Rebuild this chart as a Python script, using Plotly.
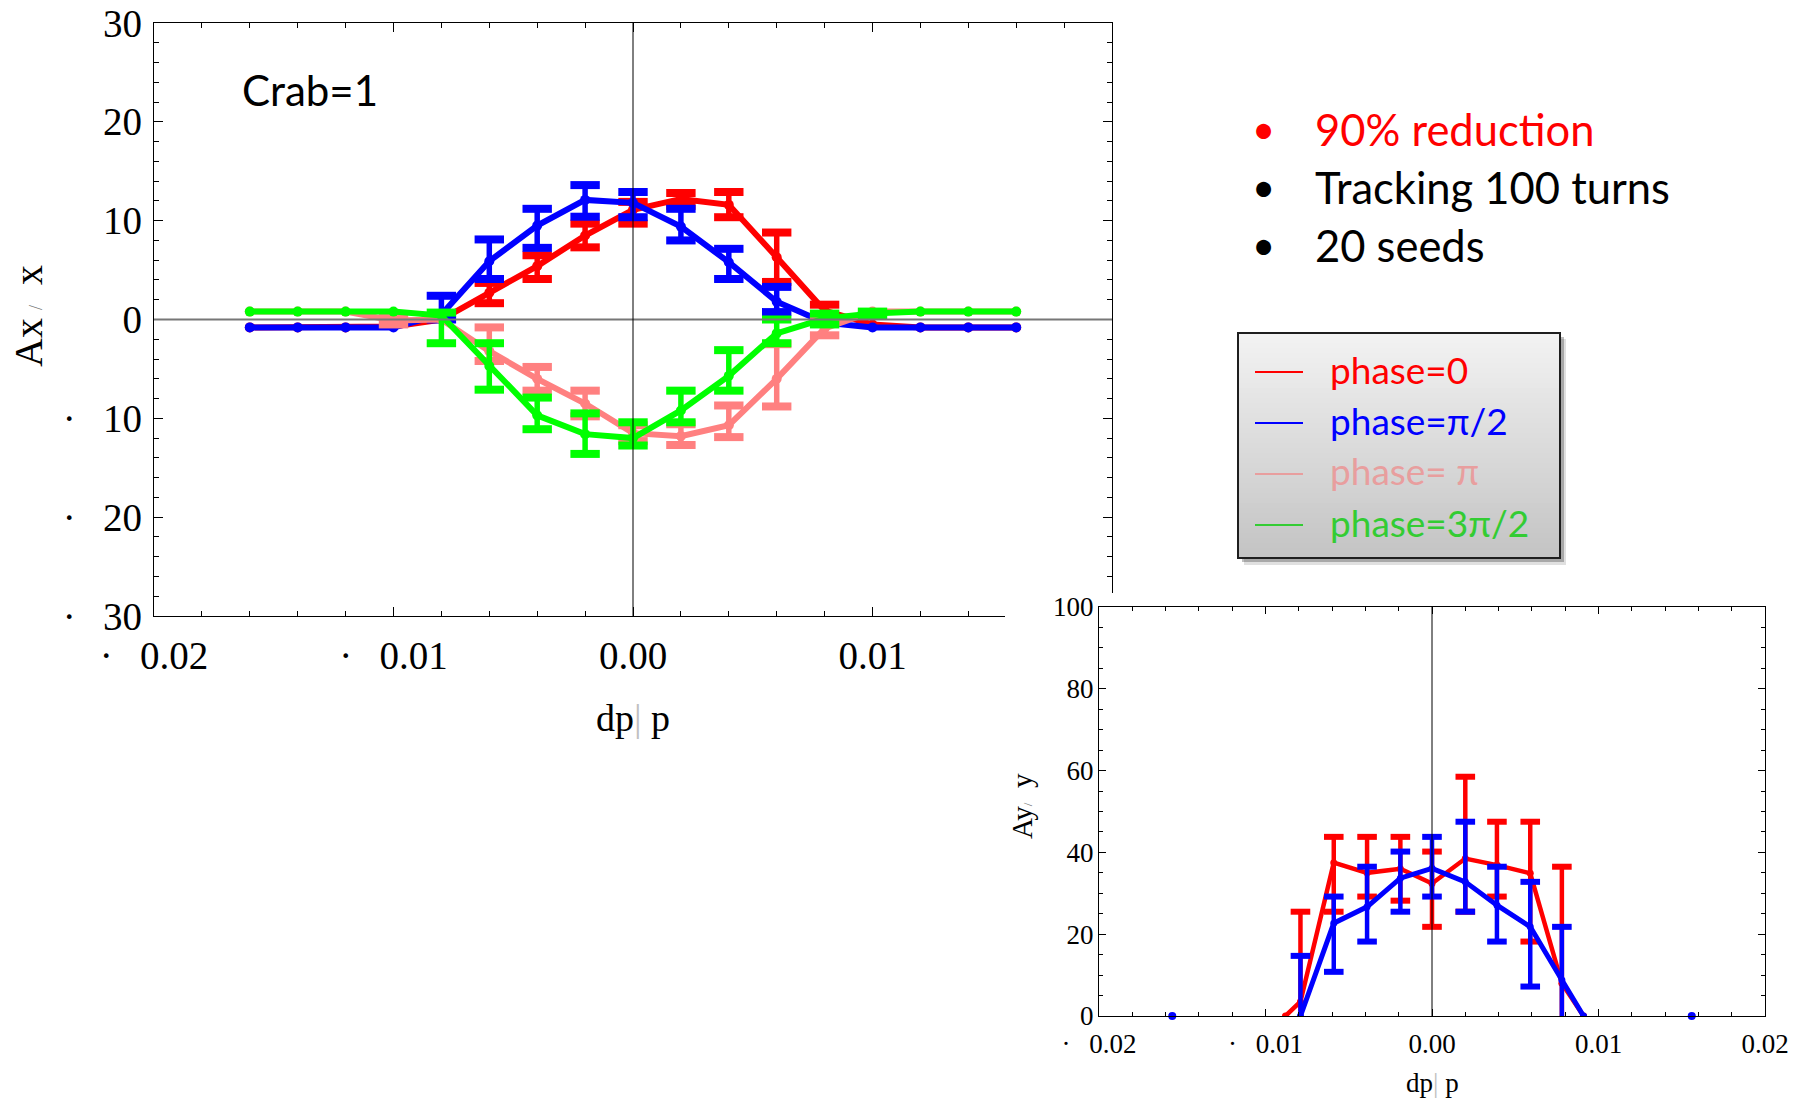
import plotly.graph_objects as go

W, H = 1805, 1098

# ---------------- main plot data: Ax/sigma_x vs dp/p (Crab=1) ----------------
dp = [-0.016, -0.014, -0.012, -0.010, -0.008, -0.006, -0.004, -0.002, 0.0,
      0.002, 0.004, 0.006, 0.008, 0.010, 0.012, 0.014, 0.016]

ax_ph0 = [-0.8, -0.8, -0.8, -0.7, 0.0, 2.7, 5.4, 8.5, 11.1, 12.2, 11.6, 6.3, 0.9, -0.5, -0.8, -0.8, -0.8]
ax_ph0_ep = [0, 0, 0, 0, 0, 1.0, 1.1, 1.2, 0.8, 0.6, 1.3, 2.5, 0.6, 0, 0, 0, 0]
ax_ph0_em = [0, 0, 0, 0, 0, 1.05, 1.3, 1.2, 1.4, 0.7, 1.25, 2.5, 0.6, 0, 0, 0, 0]

ax_ph1 = [-0.8, -0.8, -0.8, -0.8, 0.5, 5.9, 9.5, 12.1, 11.8, 9.4, 5.8, 1.8, -0.3, -0.8, -0.8, -0.8, -0.8]
ax_ph1_ep = [0, 0, 0, 0, 1.9, 2.2, 1.7, 1.5, 1.1, 1.8, 1.35, 1.5, 0, 0, 0, 0, 0]
ax_ph1_em = [0, 0, 0, 0, 0.5, 1.8, 2.25, 1.7, 1.45, 1.4, 1.7, 1.05, 0, 0, 0, 0, 0]

ax_ph2 = [0.8, 0.8, 0.8, -0.1, 0.0, -3.2, -6.0, -8.5, -11.5, -11.8, -10.7, -6.0, -0.9, 0.8, 0.8, 0.8, 0.8]
ax_ph2_ep = [0, 0, 0, 0.4, 0, 2.4, 1.2, 1.3, 0.8, 1.2, 2.0, 3.5, 0.9, 0, 0, 0, 0]
ax_ph2_em = [0, 0, 0, 0.4, 0, 1.0, 1.2, 1.3, 0.8, 0.9, 1.2, 2.8, 0.7, 0, 0, 0, 0]

ax_ph3 = [0.8, 0.8, 0.8, 0.8, 0.4, -4.7, -9.7, -11.6, -12.0, -9.2, -5.7, -1.4, 0.1, 0.6, 0.8, 0.8, 0.8]
ax_ph3_ep = [0, 0, 0, 0, 0.3, 2.3, 1.8, 2.1, 1.6, 2.0, 2.6, 1.4, 0.5, 0.2, 0, 0, 0]
ax_ph3_em = [0, 0, 0, 0, 2.8, 2.4, 1.4, 2.0, 0.75, 1.2, 1.5, 1.0, 0.6, 0.2, 0, 0, 0]

NEG = "\u00b7\u00a0\u00a0\u2009"   # the small dot shown in place of the minus sign
main_x_ticks = [-0.02, -0.01, 0.0, 0.01]
main_x_labels = [NEG + "0.02", NEG + "0.01", "0.00", "0.01"]
main_y_ticks = [-30, -20, -10, 0, 10, 20, 30]
main_y_labels = [NEG + "30", NEG + "20", NEG + "10", "0", "10", "20", "30"]

# ---------------- inset data: Ay/sigma_y vs dp/p ----------------
ay_x = [-0.0088, -0.0079, -0.0059, -0.0039, -0.0019, 0.0, 0.0020, 0.0039, 0.0059, 0.0078, 0.0091]
ay_ph0 = [0, 3.5, 37.5, 35.0, 36.0, 32.4, 38.5, 36.9, 34.9, 8.0, 0]
ay_ph0_ep = [0, 22.0, 6.3, 8.8, 7.8, 7.8, 20.0, 10.6, 12.6, 28.5, 0]
ay_ph0_em = [0, 22.0, 12.0, 5.8, 7.8, 10.6, 13.0, 7.7, 16.7, 28.5, 0]
ay_ph1 = [None, 0, 22.7, 26.7, 33.7, 36.1, 32.8, 27.1, 21.8, 8.8, 0]
ay_ph1_ep = [0, 14.7, 6.5, 9.8, 6.5, 7.7, 14.7, 9.4, 11.0, 13.0, 0]
ay_ph1_em = [0, 14.7, 11.9, 8.5, 8.2, 6.9, 7.3, 8.9, 14.6, 13.0, 0]
ay_iso_x = [-0.0156, 0.0156]
ay_iso_y = [0, 0]

inset_x_ticks = [-0.02, -0.01, 0.0, 0.01, 0.02]
inset_x_labels = [NEG + "0.02", NEG + "0.01", "0.00", "0.01", "0.02"]
inset_y_ticks = [0, 20, 40, 60, 80, 100]
inset_y_labels = ["0", "20", "40", "60", "80", "100"]

legend_names = ["phase=0", "phase=\u03c0/2", "phase= \u03c0", "phase=3\u03c0/2"]
legend_colors = ["#ff0000", "#0000ff", "#e89e9e", "#33cc33"]
notes = ["90% reduction", "Tracking 100 turns", "20 seeds"]
note_colors = ["#ff0000", "#000000", "#000000"]

SERIF = "Liberation Serif"
SANS = "Lato"


def px(x):
    return x / W


def py(y):
    return 1 - y / H


fig = go.Figure()


def add_series(x, y, ep, em, color, xa, ya, lw, msize, bar_th, cap_w, cap_th):
    fig.add_trace(go.Scatter(
        x=x, y=y, mode="lines+markers", connectgaps=False,
        line=dict(color=color, width=lw),
        marker=dict(color=color, size=msize),
        error_y=dict(type="data", symmetric=False, array=ep, arrayminus=em,
                     color=color, thickness=bar_th, width=0),
        xaxis=xa, yaxis=ya, showlegend=False, hoverinfo="skip"))
    cx, cy = [], []
    for xi, yi, a, b in zip(x, y, ep, em):
        if yi is None:
            continue
        if a > 0:
            cx.append(xi)
            cy.append(yi + a)
        if b > 0:
            cx.append(xi)
            cy.append(yi - b)
    fig.add_trace(go.Scatter(
        x=cx, y=cy, mode="markers",
        marker=dict(symbol="line-ew", size=cap_w, line=dict(color=color, width=cap_th)),
        xaxis=xa, yaxis=ya, showlegend=False, hoverinfo="skip"))


# main plot series
add_series(dp, ax_ph0, ax_ph0_ep, ax_ph0_em, "#ff0000", "x", "y", 6, 10, 5.5, 21, 8)
add_series(dp, ax_ph1, ax_ph1_ep, ax_ph1_em, "#0000ff", "x", "y", 6, 10, 5.5, 21, 8)
add_series(dp, ax_ph2, ax_ph2_ep, ax_ph2_em, "#ff8080", "x", "y", 6, 10, 5.5, 21, 8)
add_series(dp, ax_ph3, ax_ph3_ep, ax_ph3_em, "#00ff00", "x", "y", 6, 10, 5.5, 21, 8)

# cover subplot (white panel hiding lower-right part of main frame)
fig.add_trace(go.Scatter(x=[], y=[], xaxis="x2", yaxis="y2", showlegend=False))

# inset series
add_series(ay_x, ay_ph0, ay_ph0_ep, ay_ph0_em, "#ff0000", "x3", "y3", 4.5, 7, 4.5, 14, 6)
add_series(ay_x, ay_ph1, ay_ph1_ep, ay_ph1_em, "#0000ff", "x3", "y3", 5, 7, 4.5, 14, 6)
fig.add_trace(go.Scatter(x=ay_iso_x, y=ay_iso_y, mode="markers",
                         marker=dict(color="#0000ff", size=8),
                         xaxis="x3", yaxis="y3", showlegend=False, hoverinfo="skip",
                         cliponaxis=False))

frame = dict(showgrid=False, zeroline=False, showline=True, linecolor="black",
             linewidth=1.3, mirror="ticks", ticks="inside", tickcolor="black",
             tickwidth=1.2, fixedrange=True, automargin=False)

main_minor_x = [round(-0.02 + 0.002 * i, 4) for i in range(21)]
main_minor_y = list(range(-30, 31, 2))
inset_minor_x = [round(-0.02 + 0.002 * i, 4) for i in range(21)]
inset_minor_y = list(range(0, 101, 5))

fig.update_layout(
    template="none",
    width=W, height=H, margin=dict(l=0, r=0, t=0, b=0, pad=0, autoexpand=False),
    paper_bgcolor="white", plot_bgcolor="white", showlegend=False,
    xaxis=dict(**frame, domain=[px(154), px(1112)], range=[-0.02, 0.02], anchor="y",
               tickmode="array", tickvals=main_x_ticks, ticktext=main_x_labels,
               ticklen=9, tickfont=dict(family=SERIF, size=39, color="black"),
               ticklabelstandoff=5,
               minor=dict(tickmode="array", tickvals=main_minor_x, ticks="inside",
                          ticklen=5, tickcolor="black", tickwidth=1)),
    yaxis=dict(**frame, domain=[py(616), py(23)], range=[-30, 30], anchor="x",
               tickmode="array", tickvals=main_y_ticks, ticktext=main_y_labels,
               ticklen=9, tickfont=dict(family=SERIF, size=39, color="black"),
               ticklabelstandoff=3,
               minor=dict(tickmode="array", tickvals=main_minor_y, ticks="inside",
                          ticklen=5, tickcolor="black", tickwidth=1)),
    xaxis2=dict(domain=[px(1005), 1], range=[0, 1], visible=False, anchor="y2", automargin=False),
    yaxis2=dict(domain=[0, py(593)], range=[0, 1], visible=False, anchor="x2", automargin=False),
    xaxis3=dict(**frame, domain=[px(1099), px(1765)], range=[-0.02, 0.02], anchor="y3",
                tickmode="array", tickvals=inset_x_ticks, ticktext=inset_x_labels,
                ticklen=7, tickfont=dict(family=SERIF, size=27, color="black"),
                ticklabelstandoff=3,
                minor=dict(tickmode="array", tickvals=inset_minor_x, ticks="inside",
                           ticklen=4, tickcolor="black", tickwidth=1)),
    yaxis3=dict(**frame, domain=[py(1016), py(607)], range=[0, 100], anchor="x3",
                tickmode="array", tickvals=inset_y_ticks, ticktext=inset_y_labels,
                ticklen=7, tickfont=dict(family=SERIF, size=27, color="black"),
                ticklabelstandoff=-1,
                minor=dict(tickmode="array", tickvals=inset_minor_y, ticks="inside",
                           ticklen=4, tickcolor="black", tickwidth=1)),
)

shapes = []
# zero lines drawn over the data
shapes.append(dict(type="line", xref="x domain", yref="y", x0=0, x1=1, y0=0, y1=0,
                   line=dict(color="#777777", width=2), layer="above"))
shapes.append(dict(type="line", xref="x", yref="y domain", x0=0, x1=0, y0=0, y1=1,
                   line=dict(color="black", width=1), layer="above"))
shapes.append(dict(type="line", xref="x3", yref="y3 domain", x0=0, x1=0, y0=0, y1=1,
                   line=dict(color="black", width=1), layer="above"))

# legend box with shadow and vertical gradient
bx0, bx1, by0, by1 = 1238, 1560, 333, 558
shapes.append(dict(type="rect", xref="paper", yref="paper", x0=px(bx0 + 6), x1=px(bx1 + 6),
                   y0=py(by1 + 7), y1=py(by0 + 6), fillcolor="rgba(0,0,0,0.12)",
                   line=dict(width=0), layer="above"))
shapes.append(dict(type="rect", xref="paper", yref="paper", x0=px(bx0 + 4), x1=px(bx1 + 4),
                   y0=py(by1 + 4), y1=py(by0 + 4), fillcolor="rgba(0,0,0,0.25)",
                   line=dict(width=0), layer="above"))
n_strips = 45
for i in range(n_strips):
    t = i / (n_strips - 1)
    g = int(round(242 - t * (242 - 196)))
    ya = by0 + (by1 - by0) * i / n_strips
    yb = by0 + (by1 - by0) * (i + 1) / n_strips + 1
    shapes.append(dict(type="rect", xref="paper", yref="paper", x0=px(bx0), x1=px(bx1),
                       y0=py(min(yb, by1)), y1=py(ya), fillcolor=f"rgb({g},{g},{g})",
                       line=dict(width=0), layer="above"))
shapes.append(dict(type="rect", xref="paper", yref="paper", x0=px(bx0), x1=px(bx1),
                   y0=py(by1), y1=py(by0), line=dict(color="#1e1e1e", width=2), layer="above"))

row_y = [372, 423, 474, 525]
annotations = []
for name, col, ry in zip(legend_names, legend_colors, row_y):
    shapes.append(dict(type="line", xref="paper", yref="paper", x0=px(1255), x1=px(1303),
                       y0=py(ry), y1=py(ry), line=dict(color=col, width=2), layer="above"))
    annotations.append(dict(xref="paper", yref="paper", x=px(1328), y=py(ry - 3), text=name,
                            showarrow=False, xanchor="left", yanchor="middle",
                            font=dict(family=SANS, size=37, color=col)))

# bullet notes
note_y = [129, 187, 245]
for txt, col, ny in zip(notes, note_colors, note_y):
    annotations.append(dict(xref="paper", yref="paper", x=px(1263), y=py(ny), text="\u2022",
                            showarrow=False, xanchor="center", yanchor="middle",
                            font=dict(family=SANS, size=40, color=col)))
    annotations.append(dict(xref="paper", yref="paper", x=px(1313), y=py(ny), text=txt,
                            showarrow=False, xanchor="left", yanchor="middle",
                            font=dict(family=SANS, size=43.5, color=col)))

annotations.append(dict(xref="paper", yref="paper", x=px(240), y=py(90), text="Crab=1",
                        showarrow=False, xanchor="left", yanchor="middle",
                        font=dict(family=SANS, size=42, color="black")))

# axis titles
annotations.append(dict(xref="paper", yref="paper", x=px(29), y=py(316), textangle=-90,
                        text="Ax\u2009<span style='font-size:18px;color:#777777'>/</span>\u00a0\u00a0x",
                        showarrow=False, xanchor="center", yanchor="middle",
                        font=dict(family=SERIF, size=40, color="black")))
annotations.append(dict(xref="paper", yref="paper", x=px(633), y=py(718),
                        text="dp<span style='color:#c0c0c0'>|</span> p",
                        showarrow=False, xanchor="center", yanchor="middle",
                        font=dict(family=SERIF, size=38, color="black")))
annotations.append(dict(xref="paper", yref="paper", x=px(1022), y=py(806), textangle=-90,
                        text="Ay<span style='font-size:13px;color:#777777'>/</span>\u00a0\u00a0y",
                        showarrow=False, xanchor="center", yanchor="middle",
                        font=dict(family=SERIF, size=29, color="black")))
annotations.append(dict(xref="paper", yref="paper", x=px(1432), y=py(1083),
                        text="dp<span style='color:#c0c0c0'>|</span> p",
                        showarrow=False, xanchor="center", yanchor="middle",
                        font=dict(family=SERIF, size=27, color="black")))

fig.update_layout(shapes=shapes, annotations=annotations)

fig.write_html("out.html")
